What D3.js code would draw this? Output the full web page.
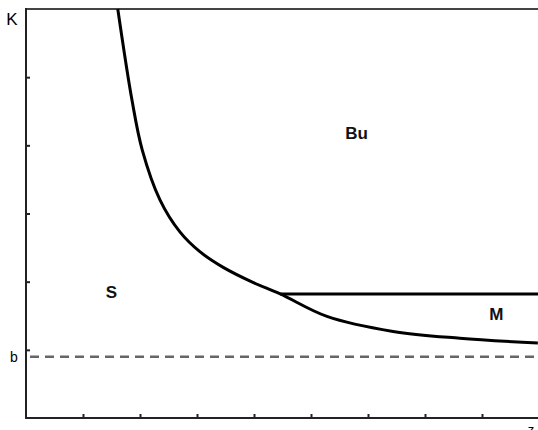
<!DOCTYPE html>
<html>
<head>
<meta charset="utf-8">
<script src="https://cdn.jsdelivr.net/npm/d3@7"></script>
<style>
  body { margin: 0; background: #fff; }
  svg text { font-family: "Liberation Sans", Arial, sans-serif; }
</style>
</head>
<body>
<div id="chart"></div>
<script>
// boundary curve (z, K)
var curveZ = [1.61, 1.86, 2.04, 2.35, 2.70, 3.05, 3.46, 3.98, 4.46, 5.28, 6.44, 7.61, 8.98];
var curveK = [6.0, 4.66, 3.93, 3.20, 2.73, 2.44, 2.21, 1.99, 1.82, 1.49, 1.27, 1.17, 1.10];
var flatK = 1.82;     // horizontal branch
var flatStart = 4.46;
var bValue = 0.9;     // dashed level b
var xTicks = [1, 2, 3, 4, 5, 6, 7, 8];
var yTicks = [1, 2, 3, 4, 5];
var regionNames = ["S", "Bu", "M"];
var regionZ = [1.5, 5.8, 8.25];
var regionK = [1.85, 4.18, 1.52];

var width = 538, height = 430;
var padLeft = 26, padTop = 9, padBottom = 418;

var svg = d3.select("#chart").append("svg")
    .attr("width", width)
    .attr("height", height);

var x = d3.scaleLinear().domain([0, 9]).range([padLeft, padLeft + 9 * 57]);
var y = d3.scaleLinear().domain([0, 6]).range([padBottom, padTop]);

// top frame line
svg.append("line")
    .attr("x1", padLeft).attr("x2", width)
    .attr("y1", padTop).attr("y2", padTop)
    .attr("stroke", "#444").attr("stroke-width", 2);

// axes, ticks pointing inside
var xAxis = svg.append("g")
    .attr("transform", "translate(0," + padBottom + ")")
    .call(d3.axisTop(x).tickValues(xTicks).tickSize(4).tickFormat(""));
xAxis.select(".domain").remove();
xAxis.selectAll("line").attr("stroke", "#222").attr("stroke-width", 2);

var yAxis = svg.append("g")
    .attr("transform", "translate(" + padLeft + ",0)")
    .call(d3.axisRight(y).tickValues(yTicks).tickSize(4).tickFormat(""));
yAxis.select(".domain").remove();
yAxis.selectAll("line").attr("stroke", "#222").attr("stroke-width", 2);

svg.append("line")
    .attr("x1", padLeft).attr("x2", width)
    .attr("y1", padBottom).attr("y2", padBottom)
    .attr("stroke", "#222").attr("stroke-width", 2);
svg.append("line")
    .attr("x1", padLeft).attr("x2", padLeft)
    .attr("y1", padTop - 1).attr("y2", padBottom + 1)
    .attr("stroke", "#222").attr("stroke-width", 2);

// dashed b level
svg.append("line")
    .attr("x1", x(0) + 4).attr("x2", width)
    .attr("y1", y(bValue)).attr("y2", y(bValue))
    .attr("stroke", "#666").attr("stroke-width", 2.5)
    .attr("stroke-dasharray", "9,6");

// boundary curve
var pts = curveZ.map(function (z, i) { return [z, curveK[i]]; });
var line = d3.line()
    .x(function (d) { return x(d[0]); })
    .y(function (d) { return y(d[1]); })
    .curve(d3.curveCatmullRom.alpha(0.5));

svg.append("path")
    .datum(pts)
    .attr("d", line)
    .attr("fill", "none")
    .attr("stroke", "#000")
    .attr("stroke-width", 3);

// horizontal branch
svg.append("line")
    .attr("x1", x(flatStart)).attr("x2", width)
    .attr("y1", y(flatK)).attr("y2", y(flatK))
    .attr("stroke", "#000").attr("stroke-width", 3);

// region labels
svg.selectAll("text.region")
    .data(regionNames)
    .enter().append("text")
    .attr("class", "region")
    .attr("x", function (d, i) { return x(regionZ[i]); })
    .attr("y", function (d, i) { return y(regionK[i]); })
    .attr("dy", ".35em")
    .attr("text-anchor", "middle")
    .attr("font-size", 17)
    .attr("font-weight", "bold")
    .attr("fill", "#111")
    .text(String);

// axis letters
svg.append("text").attr("x", 12).attr("y", 19).attr("dy", ".35em")
    .attr("text-anchor", "middle").attr("font-size", 17).text("K");
svg.append("text").attr("x", 14).attr("y", y(bValue)).attr("dy", ".35em")
    .attr("text-anchor", "middle").attr("font-size", 14).text("b");
svg.append("text").attr("x", 531).attr("y", 434)
    .attr("text-anchor", "middle").attr("font-size", 13).text("z");
</script>
</body>
</html>
